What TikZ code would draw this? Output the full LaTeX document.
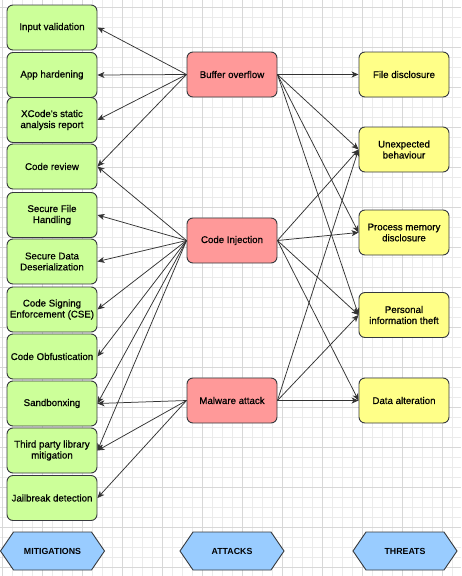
\documentclass[tikz,border=0pt]{standalone}
\usepackage{fontspec}
\setmainfont{Liberation Sans}
\newfontfamily\labelfont{Liberation Sans}[FakeBold=0.7]
\usetikzlibrary{arrows.meta}

\definecolor{gridminor}{HTML}{EBEBEB}
\definecolor{gridmajor}{HTML}{D8D8D8}
\definecolor{mitfill}{HTML}{CCFF99}
\definecolor{attfill}{HTML}{FF9999}
\definecolor{thrfill}{HTML}{FFFF88}
\definecolor{hexfill}{HTML}{99CCFF}
\definecolor{boxline}{HTML}{36393D}
\definecolor{edgeline}{HTML}{333333}

\tikzset{
  box/.style={draw=boxline, line width=0.9pt, rounded corners=6pt,
    minimum width=90pt, minimum height=45pt, inner sep=1pt,
    align=center, font=\labelfont\fontsize{9.7}{11}\selectfont, text=black},
  mitbox/.style={box, fill=mitfill},
  attbox/.style={box, fill=attfill},
  thrbox/.style={box, fill=thrfill},
  hexband/.style={draw=boxline, line width=0.9pt, fill=hexfill},
  hextext/.style={font=\bfseries\fontsize{8.8}{11}\selectfont, text=black, inner sep=0pt},
  link/.style={draw=edgeline, line width=0.75pt, -{Stealth[length=7pt,width=6pt,inset=2pt]}}
}

\begin{document}
\begin{tikzpicture}[x=1pt, y=-1pt]
  \useasboundingbox (0,0) rectangle (461,576);
  \fill[white] (0,0) rectangle (461,576);

  % background grid: fine lines every 10, stronger lines every 40
  \foreach \i in {0,...,46} {
    \pgfmathtruncatemacro\gx{10*\i+2}
    \draw[gridminor, line width=0.6pt] (\gx,0) -- (\gx,576);
  }
  \foreach \j in {0,...,57} {
    \pgfmathtruncatemacro\gy{10*\j+7}
    \draw[gridminor, line width=0.6pt] (0,\gy) -- (461,\gy);
  }
  \foreach \i in {0,...,11} {
    \pgfmathtruncatemacro\gx{40*\i+2}
    \draw[gridmajor, line width=0.6pt] (\gx,0) -- (\gx,576);
  }
  \foreach \j in {0,...,14} {
    \pgfmathtruncatemacro\gy{40*\j+7}
    \draw[gridmajor, line width=0.6pt] (0,\gy) -- (461,\gy);
  }

  % mitigations
  \node[mitbox] (iv)  at (52,27.5)  {Input validation};
  \node[mitbox] (ah)  at (52,75)    {App hardening};
  \node[mitbox] (xc)  at (52,120)   {XCode's static\\analysis report};
  \node[mitbox] (cr)  at (52,166.5) {Code review};
  \node[mitbox] (sf)  at (52,215)   {Secure File\\Handling};
  \node[mitbox] (sd)  at (52,261.5) {Secure Data\\Deserialization};
  \node[mitbox] (cse) at (52,309.5) {Code Signing\\Enforcement (CSE)};
  \node[mitbox] (ob)  at (52,356.5) {Code Obfustication};
  \node[mitbox] (sb)  at (52,403.5) {Sandbonxing};
  \node[mitbox] (tp)  at (52,450.5) {Third party library\\mitigation};
  \node[mitbox] (jb)  at (52,498)   {Jailbreak detection};

  % attacks
  \node[attbox] (bo) at (232,74.5)  {Buffer overflow};
  \node[attbox] (ci) at (232,240.5) {Code Injection};
  \node[attbox] (ma) at (232,400.5) {Malware attack};

  % threats
  \node[thrbox] (fd) at (404,74.5)  {File disclosure};
  \node[thrbox] (ub) at (404,149.5) {Unexpected\\behaviour};
  \node[thrbox] (pm) at (404,232.5) {Process memory\\disclosure};
  \node[thrbox] (pi) at (404,315)   {Personal\\information theft};
  \node[thrbox] (da) at (404,400.5) {Data alteration};

  % column headers
  \foreach \name/\cx/\txt in {mit/52.5/MITIGATIONS, att/232/ATTACKS, thr/405/THREATS} {
    \draw[hexband] (\cx-52,551) -- (\cx-39,532) -- (\cx+39,532) -- (\cx+52,551)
      -- (\cx+39,570) -- (\cx-39,570) -- cycle;
    \node[hextext] (\name) at (\cx,551) {\txt};
  }

  % attacks -> mitigations
  \foreach \m in {iv,ah,xc,cr} \draw[link] (bo.west) -- (\m.east);
  \foreach \m in {cr,sf,sd,cse,ob,sb,tp} \draw[link] (ci.west) -- (\m.east);
  \foreach \m in {sb,tp,jb} \draw[link] (ma.west) -- (\m.east);

  % attacks -> threats
  \foreach \t in {fd,ub,pm,pi} \draw[link] (bo.east) -- (\t.west);
  \foreach \t in {ub,pm,pi,da} \draw[link] (ci.east) -- (\t.west);
  \foreach \t in {ub,pi,da} \draw[link] (ma.east) -- (\t.west);
\end{tikzpicture}
\end{document}
